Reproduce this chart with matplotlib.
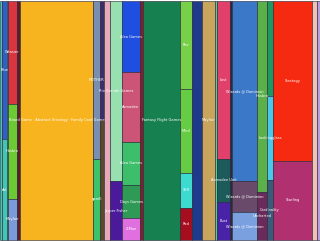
import matplotlib.pyplot as plt
import numpy as np

# column widths (share of total) and segment shares (top to bottom, each column sums to 100)
widths = [2, 5, 1, 9, 3, 73, 7, 4, 6, 12, 18, 3, 37, 12, 10, 13, 2, 13, 2, 25, 10, 6, 39, 5, 3]
shares = [
    [100], [58, 42], [100], [43, 40, 17], [100], [100], [66, 34], [50, 50], [100],
    [75.5, 24.5], [30, 29, 18, 14, 9], [100], [100], [37, 35, 14.5, 13.5], [100],
    [100], [100], [66, 18, 16], [100], [75.5, 13, 11.5], [80, 20], [40, 35, 25],
    [67, 33], [100], [100],
]
colors = [
    ["#3fc9b0"], ["#2f5fc8", "#3fc6b5"], ["#55d6a8"], ["#d9343f", "#6dc933", "#7b9bd8"],
    ["#5a1e2a"], ["#f7b41f"], ["#7a8fb0", "#3cc36a"], ["#3b2f6b", "#5a4a2a"], ["#e9a9b8"],
    ["#98e0b0", "#4b1a9a"], ["#1f4fe0", "#cc5577", "#3dbe6a", "#2e9a55", "#e070e0"],
    ["#8b1a2a"], ["#178050"], ["#77d048", "#66cc44", "#3ddad0", "#a50e1e"], ["#1e3a8a"],
    ["#c9a45c"], ["#50d0a0"], ["#e0406a", "#1d5a5a", "#4a22a8"], ["#2a2a3a"],
    ["#3c78c8", "#6a4a6a", "#7aa0e0"], ["#5bb04a", "#6a2a5a"], ["#1e9a60", "#4ac8e8", "#3a5a7a"],
    ["#f52a10", "#b03070"], ["#f5c0b0"], ["#b8a0e0"],
]
labels = [
    [""], ["Blue", "Art"], [""], ["Weasier", "Hasbro", "Mayfair"], [""],
    ["Board Game · Abstract Strategy · Family Card Game"], ["MOTHER", "gamE"], ["", ""], [""],
    ["Rio Grande Games", "Jasper Fisher"], ["Alea Games", "Asmodee", "Alea Games", "Days Games", "Z-Man"],
    [""], ["Fantasy Flight Games"], ["Rez", "Mind", "XLR", "Red"], [""],
    ["Mayfair"], [""], ["Lost", "Asmodee Unit", "Bust"], [""],
    ["Wizards @ Dominion", "Wizards @ Dominion", "Wizards @ Dominion"], ["Hasbro", "Uncharted"],
    ["", "Lookingglass", "Cardinality"], ["Strategy", "Starling"], [""], [""],
]

fig = plt.figure(figsize=(3.2, 2.41), dpi=100)
ax = fig.add_axes([0, 0, 1, 1])

left = 0
for w, sh, cs, lb in zip(widths, shares, colors, labels):
    bottom = 0
    for s, c, t in zip(sh, cs, lb):
        ax.bar(left, s, width=w, bottom=bottom, color=c, align="edge",
               edgecolor="#222233", linewidth=0.4)
        if t:
            ax.text(left + w / 2, bottom + s / 2, t, color="white", fontsize=2.6,
                    ha="center", va="center")
        bottom += s
    left += w

ax.set_xlim(0, sum(widths))
ax.set_ylim(100.5, -0.3)
ax.axis("off")
fig.savefig("out.png", dpi=100)
